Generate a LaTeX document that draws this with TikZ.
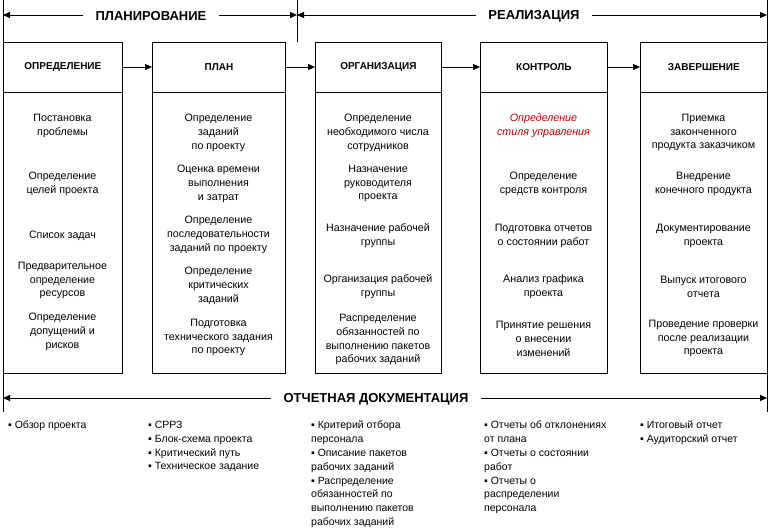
\documentclass[tikz,border=0pt]{standalone}
\usepackage{fontspec}
\setmainfont{Liberation Sans}
\usetikzlibrary{arrows.meta}
\definecolor{redtxt}{RGB}{192,0,0}
\tikzset{
 ln/.style={line width=0.8pt},
 arr/.style={ln,-{Triangle[length=7pt,width=6pt]}},
 box/.style={draw,ln,minimum height=331pt,anchor=north west,inner sep=0},
 hdr/.style={font=\fontsize{10}{12}\selectfont\bfseries},
 phase/.style={font=\fontsize{13}{15}\selectfont\bfseries,inner xsep=12pt,inner ysep=0},
 itm/.style={align=center,font=\fontsize{10.7}{13.9}\selectfont,inner sep=0,yshift=-2.5pt},
 lst/.style={align=left,anchor=north west,font=\fontsize{10.5}{13.8}\selectfont,inner sep=0},
}
\begin{document}
\begin{tikzpicture}[x=1pt,y=-1pt]
\useasboundingbox (0,0) rectangle (772,532);
\fill[white] (0,0) rectangle (772,532);
% frame lines
\coordinate (vl0) at (3,0); \coordinate (vl1) at (3,412);
\coordinate (vm0) at (297,0); \coordinate (vm1) at (297,42);
\coordinate (vr0) at (767,0); \coordinate (vr1) at (767,412);
\draw[ln] (vl0) -- (vl1);
\draw[ln] (vm0) -- (vm1);
\draw[ln] (vr0) -- (vr1);
% phase arrows
\coordinate (tl) at (3,15); \coordinate (tm) at (297,15); \coordinate (tr) at (767,15);
\node[phase] (ph1) at (151,16) {ПЛАНИРОВАНИЕ};
\draw[arr] (ph1.west |- tl) -- (tl);
\draw[arr] (ph1.east |- tm) -- (tm);
\node[phase] (ph2) at (534,16) {РЕАЛИЗАЦИЯ};
\draw[arr] (ph2.west |- tm) -- (tm);
\draw[arr] (ph2.east |- tr) -- (tr);
\coordinate (bl) at (3,398); \coordinate (br) at (767,398);
\node[phase] (ph3) at (376,399) {ОТЧЕТНАЯ ДОКУМЕНТАЦИЯ};
\draw[arr] (ph3.west |- bl) -- (bl);
\draw[arr] (ph3.east |- br) -- (br);
% boxes
\node[box,minimum width=119pt] (b1) at (3,42) {};
\node[box,minimum width=133pt] (b2) at (152,42) {};
\node[box,minimum width=126pt] (b3) at (315,42) {};
\node[box,minimum width=127pt] (b4) at (480,42) {};
\node[box,minimum width=127pt] (b5) at (640,42) {};
\foreach \b in {b1,b2,b3,b4,b5}{
  \draw[ln] ([yshift=-50pt]\b.north west) -- ([yshift=-50pt]\b.north east);
}
\node[hdr] (h1) at ([yshift=-25pt]b1.north) {ОПРЕДЕЛЕНИЕ};
\node[hdr] (h2) at ([yshift=-25pt]b2.north) {ПЛАН};
\node[hdr] (h3) at ([yshift=-25pt]b3.north) {ОРГАНИЗАЦИЯ};
\node[hdr] (h4) at ([yshift=-25pt]b4.north) {КОНТРОЛЬ};
\node[hdr] (h5) at ([yshift=-25pt]b5.north) {ЗАВЕРШЕНИЕ};
\draw[arr] (b1.east |- h1) -- (b2.west |- h1);
\draw[arr] (b2.east |- h2) -- (b3.west |- h2);
\draw[arr] (b3.east |- h3) -- (b4.west |- h3);
\draw[arr] (b4.east |- h4) -- (b5.west |- h4);
% column 1
\node[itm] (p11) at (62.5,123) {Постановка\\проблемы};
\node[itm] (p12) at (62.5,181) {Определение\\целей проекта};
\node[itm] (p13) at (62.5,233) {Список задач};
\node[itm] (p14) at (62.5,278) {Предварительное\\определение\\ресурсов};
\node[itm] (p15) at (62.5,329) {Определение\\допущений и\\рисков};
% column 2
\node[itm] (p21) at (218.5,130) {Определение\\заданий\\по проекту};
\node[itm] (p22) at (218.5,181) {Оценка времени\\выполнения\\и затрат};
\node[itm] (p23) at (218.5,232) {Определение\\последовательности\\заданий по проекту};
\node[itm] (p24) at (218.5,283) {Определение\\критических\\заданий};
\node[itm] (p25) at (218.5,335) {Подготовка\\технического задания\\по проекту};
% column 3
\node[itm] (p31) at (378,130) {Определение\\необходимого числа\\сотрудников};
\node[itm] (p32) at (378,181) {Назначение\\руководителя\\проекта};
\node[itm] (p33) at (378,233) {Назначение рабочей\\группы};
\node[itm] (p34) at (378,284) {Организация рабочей\\группы};
\node[itm] (p35) at (378,337) {Распределение\\обязанностей по\\выполнению пакетов\\рабочих заданий};
% column 4
\node[itm,text=redtxt,font=\fontsize{10.7}{13.9}\selectfont\itshape] (p41) at (543.5,123) {Определение\\стиля управления};
\node[itm] (p42) at (543.5,181) {Определение\\средств контроля};
\node[itm] (p43) at (543.5,233) {Подготовка отчетов\\о состоянии работ};
\node[itm] (p44) at (543.5,284) {Анализ графика\\проекта};
\node[itm] (p45) at (543.5,336) {Принятие решения\\о внесении\\изменений};
% column 5
\node[itm] (p51) at (703.5,130) {Приемка\\законченного\\продукта заказчиком};
\node[itm] (p52) at (703.5,181) {Внедрение\\конечного продукта};
\node[itm] (p53) at (703.5,233) {Документирование\\проекта};
\node[itm] (p54) at (703.5,284) {Выпуск итогового\\отчета};
\node[itm] (p55) at (703.5,336) {Проведение проверки\\после реализации\\проекта};
% documentation lists
\node[lst] (d1) at (8,421) {▪ Обзор проекта};
\node[lst] (d2) at (148,421) {▪ СРРЗ\\▪ Блок-схема проекта\\▪ Критический путь\\▪ Техническое задание};
\node[lst] (d3) at (311,421) {▪ Критерий отбора\\персонала\\▪ Описание пакетов\\рабочих заданий\\▪ Распределение\\обязанностей по\\выполнению пакетов\\рабочих заданий};
\node[lst] (d4) at (484,421) {▪ Отчеты об отклонениях\\от плана\\▪ Отчеты о состоянии\\работ\\▪ Отчеты о\\распределении\\персонала};
\node[lst] (d5) at (640,421) {▪ Итоговый отчет\\▪ Аудиторский отчет};
\end{tikzpicture}
\end{document}
